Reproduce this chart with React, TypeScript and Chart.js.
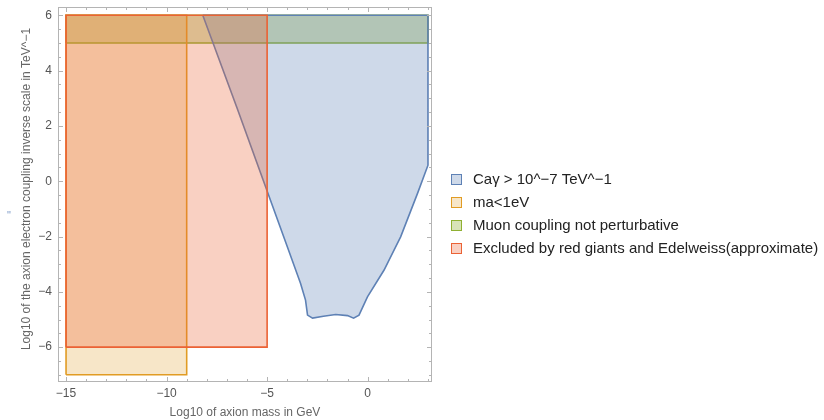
import React, { useEffect, useRef } from "react";
import { Chart, registerables } from "chart.js";

Chart.register(...registerables);

// ---- data ----
const blueRegionX = [-8.2, -6.5, -5.0, -4.0, -3.34, -3.09, -2.99, -2.74, -2.2, -1.59, -1.0, -0.7, -0.43, -0.01, 0.81, 1.64, 2.48, 3.0, 3.0, -8.2];
const blueRegionY = [6.0, 2.66, -0.35, -2.36, -3.69, -4.3, -4.84, -4.95, -4.88, -4.82, -4.86, -4.95, -4.84, -4.18, -3.22, -2.01, -0.44, 0.58, 6.0, 6.0];

const orangeRectX = [-15, -9, -9, -15, -15];
const orangeRectY = [-7, -7, 6, 6, -7];

const greenRectX = [-15, 3, 3, -15, -15];
const greenRectY = [5, 5, 6, 6, 5];

const redRectX = [-15, -5, -5, -15, -15];
const redRectY = [-6, -6, 6, 6, -6];

const seriesLabels = [
  "Caγ > 10^−7 TeV^−1",
  "ma<1eV",
  "Muon coupling not perturbative",
  "Excluded by red giants and Edelweiss(approximate)",
];

const xMajorTicks = [-15, -10, -5, 0];
const xMinorTicks = [-15, -14, -13, -12, -11, -10, -9, -8, -7, -6, -5, -4, -3, -2, -1, 0, 1, 2, 3];
const yMajorTicks = [-6, -4, -2, 0, 2, 4, 6];
const yMinorTicks = [-7, -6.5, -6, -5.5, -5, -4.5, -4, -3.5, -3, -2.5, -2, -1.5, -1, -0.5, 0, 0.5, 1, 1.5, 2, 2.5, 3, 3.5, 4, 4.5, 5, 5.5, 6];

const xTitle = "Log10 of axion mass in GeV";
const yTitle = "Log10 of the axion electron coupling inverse scale in TeV^−1";

const lineColors = ["#5e81b5", "#e19c24", "#8fb032", "#eb6235"];
const fillColors = [
  "rgba(94,129,181,0.3)",
  "rgba(225,156,36,0.25)",
  "rgba(143,176,50,0.35)",
  "rgba(235,98,53,0.3)",
];

const toPts = (xs: number[], ys: number[]) => xs.map((x, i) => ({ x, y: ys[i] }));

const FONT = "'Liberation Sans', Arial, sans-serif";

const framePlugin = {
  id: "frameTicks",
  afterDatasetsDraw(chart: any) {
    const { ctx, chartArea: a, scales } = chart;
    const xs = scales.x;
    const ys = scales.y;
    ctx.save();
    ctx.strokeStyle = "#b4b4b4";
    ctx.lineWidth = 1;
    ctx.strokeRect(a.left + 0.5, a.top + 0.5, a.right - a.left - 1, a.bottom - a.top - 1);
    ctx.beginPath();
    const drawX = (v: number, len: number) => {
      const p = Math.round(xs.getPixelForValue(v)) + 0.5;
      ctx.moveTo(p, a.bottom);
      ctx.lineTo(p, a.bottom - len);
      ctx.moveTo(p, a.top);
      ctx.lineTo(p, a.top + len);
    };
    const drawY = (v: number, len: number) => {
      const p = Math.round(ys.getPixelForValue(v)) + 0.5;
      ctx.moveTo(a.left, p);
      ctx.lineTo(a.left + len, p);
      ctx.moveTo(a.right, p);
      ctx.lineTo(a.right - len, p);
    };
    xMinorTicks.forEach((v) => drawX(v, xMajorTicks.includes(v) ? 5 : 3));
    yMinorTicks.forEach((v) => drawY(v, yMajorTicks.includes(v) ? 5 : 3));
    ctx.stroke();

    // axis titles
    ctx.fillStyle = "#666";
    ctx.font = `12px ${FONT}`;
    ctx.textAlign = "center";
    ctx.textBaseline = "middle";
    ctx.fillText(xTitle, (a.left + a.right) / 2, 413);
    ctx.save();
    ctx.translate(27, 189);
    ctx.rotate(-Math.PI / 2);
    ctx.fillText(yTitle, 0, 0);
    ctx.restore();
    ctx.fillStyle = "#7f9cc8";
    ctx.font = `11px ${FONT}`;
    ctx.fillText('"', 9, 216);

    // legend
    const ly = [179, 202, 225, 248];
    ctx.font = `15px ${FONT}`;
    ctx.textAlign = "left";
    chart.data.datasets.forEach((d: any, i: number) => {
      const y = ly[i];
      ctx.fillStyle = "#fff";
      ctx.fillRect(451, y - 5, 11, 11);
      ctx.fillStyle = d.backgroundColor;
      ctx.fillRect(451, y - 5, 11, 11);
      ctx.strokeStyle = d.borderColor;
      ctx.lineWidth = 1;
      ctx.strokeRect(451.5, y - 4.5, 10, 10);
      ctx.fillStyle = "#222";
      ctx.fillText(d.label, 473, y + 1);
    });
    ctx.restore();
  },
};

export default function App() {
  const ref = useRef<HTMLCanvasElement>(null);
  useEffect(() => {
    document.body.style.margin = "0";
    const regions = [
      toPts(blueRegionX, blueRegionY),
      toPts(orangeRectX, orangeRectY),
      toPts(greenRectX, greenRectY),
      toPts(redRectX, redRectY),
    ];
    const chart = new Chart(ref.current as HTMLCanvasElement, {
      type: "line",
      data: {
        datasets: regions.map((pts, i) => ({
          label: seriesLabels[i],
          data: pts,
          borderColor: lineColors[i],
          backgroundColor: fillColors[i],
          borderWidth: 1.6,
          pointRadius: 0,
          fill: "shape",
          tension: 0,
          order: i === 3 ? 0 : i === 0 ? 1 : i + 1,
        })),
      },
      options: {
        animation: false,
        responsive: false,
        maintainAspectRatio: false,
        layout: { padding: { left: 0, top: 7, right: 392, bottom: 0 } },
        plugins: { legend: { display: false }, tooltip: { enabled: false } },
        scales: {
          x: {
            type: "linear",
            min: -15.4,
            max: 3.2,
            grid: { display: false, drawTicks: false, tickLength: 0 },
            border: { display: false },
            afterBuildTicks: (s: any) => {
              s.ticks = xMajorTicks.map((v) => ({ value: v }));
            },
            afterFit: (s: any) => {
              s.height = 38;
              s.paddingLeft = 0;
              s.paddingRight = 0;
            },
            ticks: {
              color: "#555",
              font: { family: FONT, size: 12 },
              padding: 4,
              maxRotation: 0,
              callback: (v: any) => String(v).replace("-", "−"),
            },
          },
          y: {
            type: "linear",
            min: -7.26,
            max: 6.3,
            grid: { display: false, drawTicks: false, tickLength: 0 },
            border: { display: false },
            afterBuildTicks: (s: any) => {
              s.ticks = yMajorTicks.map((v) => ({ value: v }));
            },
            afterFit: (s: any) => {
              s.width = 58;
              s.paddingTop = 0;
              s.paddingBottom = 0;
            },
            ticks: {
              color: "#555",
              font: { family: FONT, size: 12 },
              padding: 6,
              callback: (v: any) => String(v).replace("-", "−"),
            },
          },
        },
      },
      plugins: [framePlugin],
    });
    return () => chart.destroy();
  }, []);
  return <canvas ref={ref} width={824} height={420} style={{ display: "block" }} />;
}
